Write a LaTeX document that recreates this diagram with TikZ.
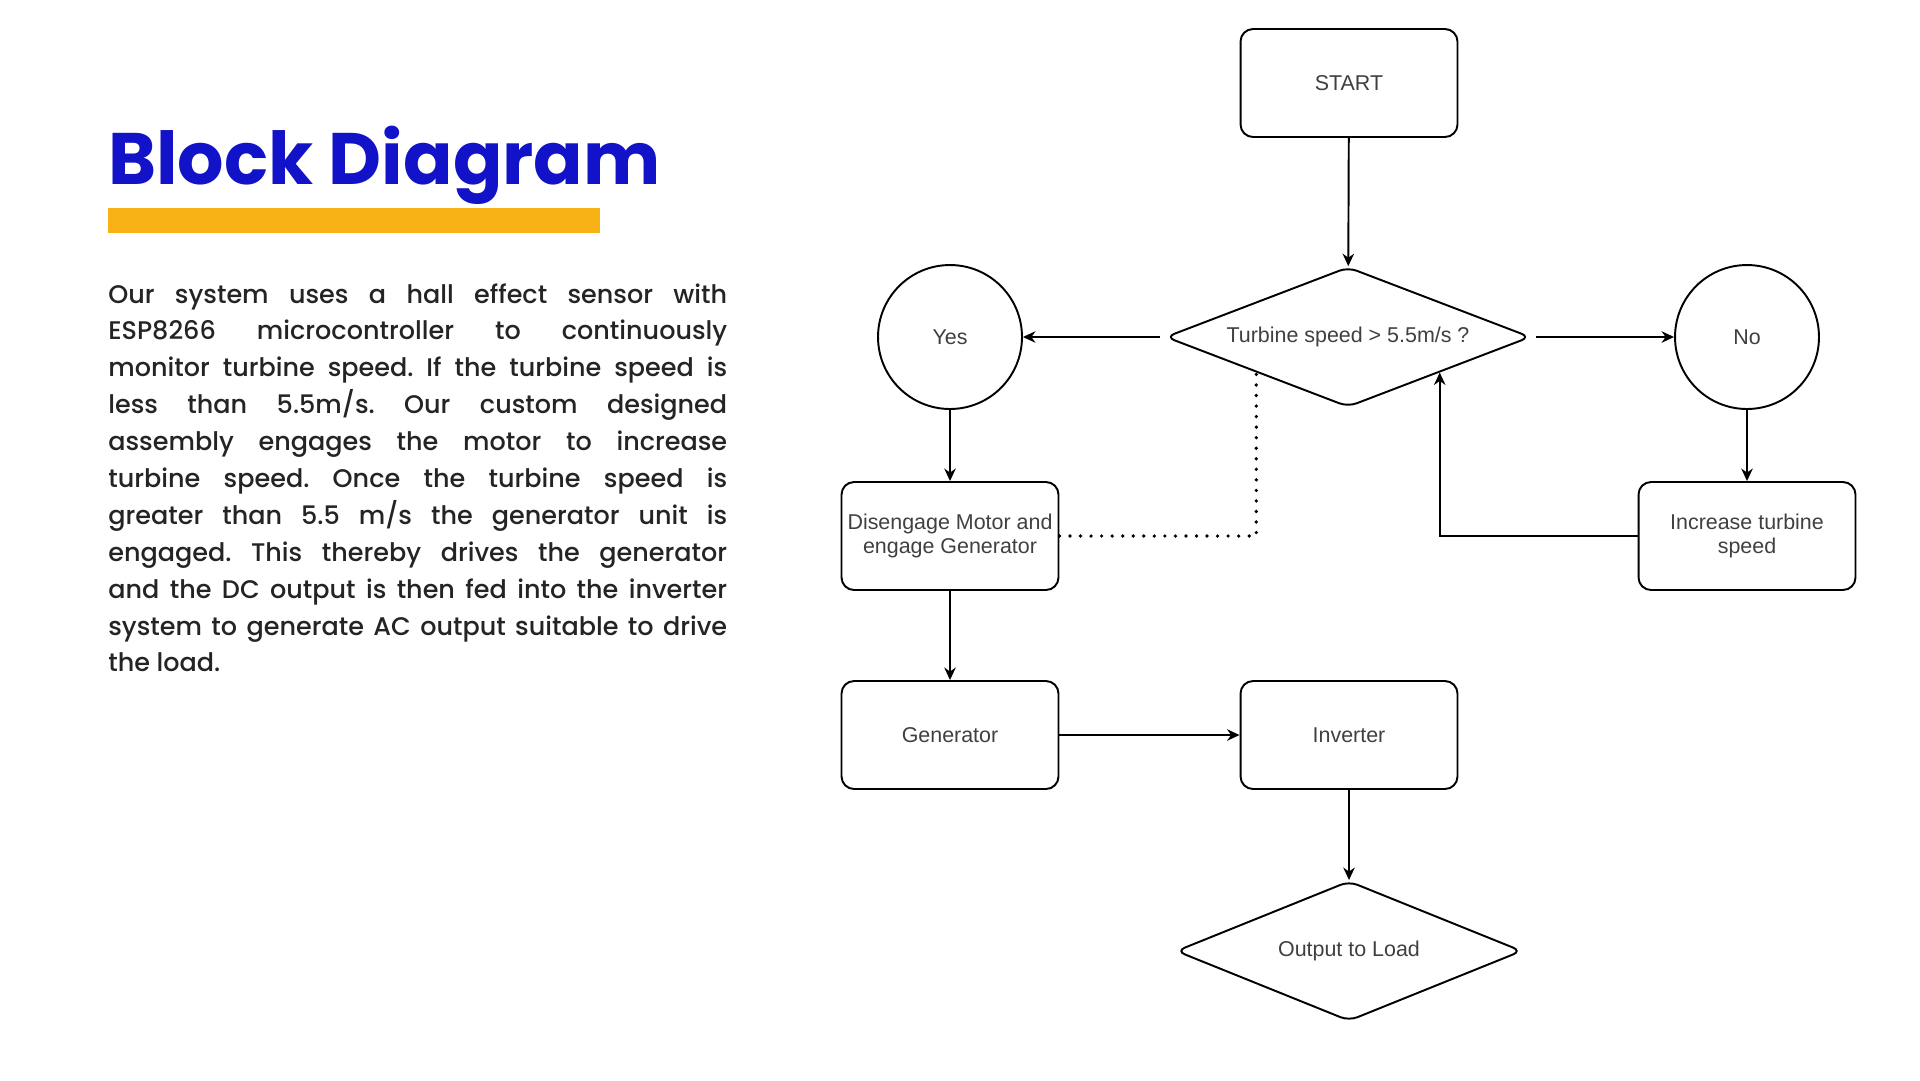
\documentclass[tikz,border=0pt]{standalone}
\usepackage{fontspec}
\setmainfont{Poppins}[UprightFont=* Medium, BoldFont=* Bold]
\newfontfamily\flowfont{Liberation Sans}
\usetikzlibrary{arrows.meta, shapes.geometric}
\definecolor{titleblue}{RGB}{18,18,200}
\definecolor{baryellow}{RGB}{249,178,22}
\definecolor{bodygray}{RGB}{36,36,36}
\tikzstyle{arrow} = [line width=1.1pt, -{Stealth[length=2.5mm, width=2.3mm]}]
\tikzstyle{box} = [draw, line width=1.1pt, rounded corners=0.25cm, minimum width=4.34cm, minimum height=2.16cm, inner sep=1pt, align=center, font=\flowfont\fontsize{12.2}{14}\selectfont, text=black!75]
\tikzstyle{decision} = [box, diamond, aspect=2.6, rounded corners=0.18cm, inner sep=0pt, minimum width=7.3cm, minimum height=2.8cm]
\tikzstyle{answer} = [box, circle, minimum size=2.88cm]
\tikzstyle{link} = [line width=2.1pt, line cap=round, dash pattern=on 0pt off 6pt]

\begin{document}
\frenchspacing
\begin{tikzpicture}[x=0.02cm, y=-0.02cm]
    \useasboundingbox (0,0) rectangle (1920,1080);
    \fill[white] (0,0) rectangle (1920,1080);
    % left column
    \node[anchor=base west, inner sep=0, text=titleblue, font=\fontsize{41.5}{42}\selectfont\bfseries] (title) at (108,184) {Block Diagram};
    \fill[baryellow] (108,208) rectangle (600,233);
    \node[anchor=north west, inner sep=0, align=left, text=bodygray, font=\fontsize{14.5}{21}\selectfont] (body) at (108,283) {%
      \makebox[12.38cm][s]{Our system uses a hall effect sensor with}\\
      \makebox[12.38cm][s]{ESP8266 microcontroller to continuously}\\
      \makebox[12.38cm][s]{monitor turbine speed. If the turbine speed is}\\
      \makebox[12.38cm][s]{less than 5.5m/s. Our custom designed}\\
      \makebox[12.38cm][s]{assembly engages the motor to increase}\\
      \makebox[12.38cm][s]{turbine speed. Once the turbine speed is}\\
      \makebox[12.38cm][s]{greater than 5.5 m/s the generator unit is}\\
      \makebox[12.38cm][s]{engaged. This thereby drives the generator}\\
      \makebox[12.38cm][s]{and the DC output is then fed into the inverter}\\
      \makebox[12.38cm][s]{system to generate AC output suitable to drive}\\
      the load.};

    % flow chart
    \node[box] (start) at (1349,83) {START};
    \node[decision] (cond) at (1348,337) {Turbine speed > 5.5m/s ?};
    \node[answer] (yes) at (950,337) {Yes};
    \node[answer] (no) at (1747,337) {No};
    \node[box] (dis) at (950,536) {Disengage Motor and\\engage Generator};
    \node[box] (inc) at (1747,536) {Increase turbine\\speed};
    \node[box] (gen) at (950,735) {Generator};
    \node[box] (inv) at (1349,735) {Inverter};
    \node[decision, minimum width=6.92cm] (out) at (1349,951) {Output to Load};

    \draw[arrow] (start) -- (cond);
    \draw[arrow, shorten <=0.1cm] (cond) -- (yes);
    \draw[arrow, shorten <=0.1cm] (cond) -- (no);
    \draw[arrow] (yes) -- (dis);
    \draw[arrow] (no) -- (inc);
    \draw[arrow] (inc.west) -| (cond.south east);
    \draw[link] (dis.east) -| (cond.south west);
    \draw[arrow] (dis) -- (gen);
    \draw[arrow] (gen) -- (inv);
    \draw[arrow] (inv) -- (out);
  \end{tikzpicture}
\end{document}
